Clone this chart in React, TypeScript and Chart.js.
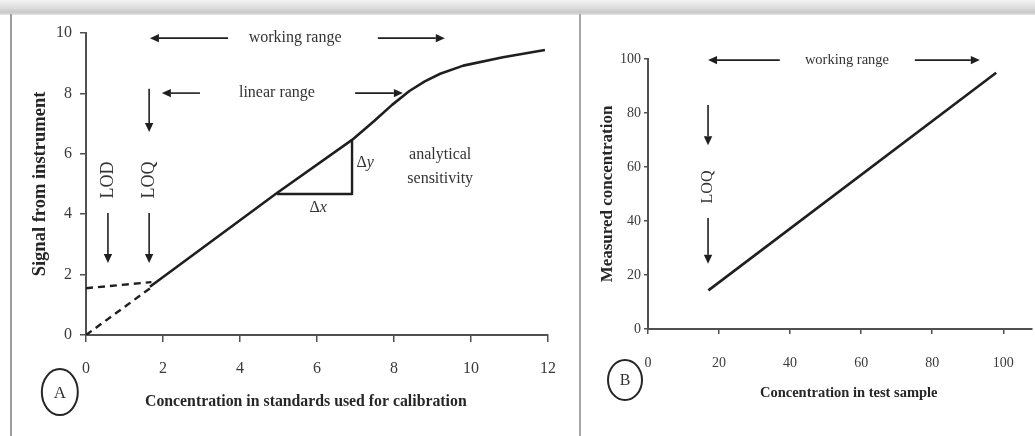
import React, { useEffect, useRef } from "react";
import { Chart, registerables } from "chart.js";

Chart.register(...registerables);

const SERIF = "'Liberation Serif', 'DejaVu Serif', serif";
const INK = "#1f1f1f";
const TXT = "#333333";
const AXIS = "#505050";

// ---------- Panel A : calibration curve ----------
const aXTicks = [0, 2, 4, 6, 8, 10, 12];
const aYTicks = [0, 2, 4, 6, 8, 10];
const aCurveX = [1.66, 4.96, 6.91, 7.5, 7.95, 8.4, 8.8, 9.2, 9.8, 10.83, 11.92];
const aCurveY = [1.6, 4.7, 6.46, 7.1, 7.62, 8.08, 8.4, 8.65, 8.92, 9.2, 9.44];
const aBlankX = [0, 1.7];
const aBlankY = [1.55, 1.75];
const aOriginX = [0, 1.7];
const aOriginY = [0, 1.58];
const aTriX = [4.96, 6.91, 6.91];
const aTriY = [4.67, 4.67, 6.42];

// ---------- Panel B : measured vs test sample ----------
const bXTicks = [0, 20, 40, 60, 80, 100];
const bYTicks = [0, 20, 40, 60, 80, 100];
const bLineX = [17, 98];
const bLineY = [14.3, 94.9];

// annotations (data coordinates of each panel)
const aAnnotations = [
  { kind: "arrow", x1: 3.69, y1: 9.83, x2: 1.66, y2: 9.83 },
  { kind: "text", x: 5.43, y: 9.83, text: "working range", size: 16 },
  { kind: "arrow", x1: 7.58, y1: 9.83, x2: 9.32, y2: 9.83 },
  { kind: "arrow", x1: 2.96, y1: 8.01, x2: 1.97, y2: 8.01 },
  { kind: "text", x: 4.96, y: 8.01, text: "linear range", size: 16 },
  { kind: "arrow", x1: 6.99, y1: 8.01, x2: 8.23, y2: 8.01 },
  { kind: "arrow", x1: 1.64, y1: 8.15, x2: 1.64, y2: 6.72 },
  { kind: "text", x: 1.64, y: 5.13, text: "LOQ", size: 18, rot: true },
  { kind: "arrow", x1: 1.64, y1: 4.04, x2: 1.64, y2: 2.38 },
  { kind: "text", x: 0.57, y: 5.13, text: "LOD", size: 18, rot: true },
  { kind: "arrow", x1: 0.57, y1: 4.04, x2: 0.57, y2: 2.38 },
  { kind: "delta", x: 6.03, y: 4.2, text: "x", size: 16 },
  { kind: "delta", x: 7.25, y: 5.7, text: "y", size: 16 },
  { kind: "text", x: 9.2, y: 5.96, text: "analytical", size: 16 },
  { kind: "text", x: 9.2, y: 5.16, text: "sensitivity", size: 16 },
  { kind: "badge", x: -0.68, y: -1.89, text: "A", rx: 18, ry: 23, size: 17 },
  { kind: "title", x: 5.71, y: -2.22, text: "Concentration in standards used for calibration", size: 15.8 },
];

const bAnnotations = [
  { kind: "arrow", x1: 37.1, y1: 99.6, x2: 16.9, y2: 99.6 },
  { kind: "text", x: 56, y: 99.6, text: "working range", size: 14.5 },
  { kind: "arrow", x1: 75.1, y1: 99.6, x2: 93.4, y2: 99.6 },
  { kind: "arrow", x1: 16.9, y1: 83, x2: 16.9, y2: 68.1 },
  { kind: "text", x: 16.9, y: 52.6, text: "LOQ", size: 16, rot: true },
  { kind: "arrow", x1: 16.9, y1: 41.1, x2: 16.9, y2: 24.2 },
  { kind: "badge", x: -6.47, y: -18.9, text: "B", rx: 17, ry: 20, size: 16 },
  { kind: "title", x: 56.5, y: -23.7, text: "Concentration in test sample", size: 14.5 },
];

const pts = (xs: number[], ys: number[]) => xs.map((x, i) => ({ x, y: ys[i] }));

function makeAnnotPlugin(items: any[]) {
  return {
    id: "annot",
    afterDraw(chart: any) {
      const ctx = chart.ctx as CanvasRenderingContext2D;
      const sx = chart.scales.x;
      const sy = chart.scales.y;
      const px = (v: number) => sx.getPixelForValue(v);
      const py = (v: number) => sy.getPixelForValue(v);
      ctx.save();
      for (const it of items) {
        if (it.kind === "arrow") {
          const x1 = px(it.x1), y1 = py(it.y1), x2 = px(it.x2), y2 = py(it.y2);
          const ang = Math.atan2(y2 - y1, x2 - x1);
          const len = 9, hw = 4.2;
          const bx = x2 - len * Math.cos(ang), by = y2 - len * Math.sin(ang);
          ctx.strokeStyle = INK;
          ctx.lineWidth = 1.6;
          ctx.beginPath();
          ctx.moveTo(x1, y1);
          ctx.lineTo(bx, by);
          ctx.stroke();
          ctx.fillStyle = INK;
          ctx.beginPath();
          ctx.moveTo(x2, y2);
          ctx.lineTo(bx + hw * Math.sin(ang), by - hw * Math.cos(ang));
          ctx.lineTo(bx - hw * Math.sin(ang), by + hw * Math.cos(ang));
          ctx.closePath();
          ctx.fill();
        } else if (it.kind === "text") {
          ctx.fillStyle = TXT;
          ctx.font = `${it.size}px ${SERIF}`;
          ctx.textAlign = "center";
          ctx.textBaseline = "middle";
          const x = px(it.x), y = py(it.y);
          if (it.rot) {
            ctx.save();
            ctx.translate(x, y);
            ctx.rotate(-Math.PI / 2);
            ctx.fillText(it.text, 0, 0);
            ctx.restore();
          } else {
            ctx.fillText(it.text, x, y);
          }
        } else if (it.kind === "delta") {
          const x = px(it.x), y = py(it.y);
          ctx.fillStyle = TXT;
          ctx.textBaseline = "middle";
          ctx.font = `${it.size}px ${SERIF}`;
          const dW = ctx.measureText("\u0394").width;
          ctx.font = `italic ${it.size}px ${SERIF}`;
          const vW = ctx.measureText(it.text).width;
          const start = x - (dW + vW) / 2;
          ctx.textAlign = "left";
          ctx.font = `${it.size}px ${SERIF}`;
          ctx.fillText("\u0394", start, y);
          ctx.font = `italic ${it.size}px ${SERIF}`;
          ctx.fillText(it.text, start + dW, y);
        } else if (it.kind === "badge") {
          const x = px(it.x), y = py(it.y);
          ctx.strokeStyle = "#262626";
          ctx.lineWidth = 2;
          ctx.beginPath();
          ctx.ellipse(x, y, it.rx, it.ry, 0, 0, Math.PI * 2);
          ctx.stroke();
          ctx.fillStyle = TXT;
          ctx.font = `${it.size}px ${SERIF}`;
          ctx.textAlign = "center";
          ctx.textBaseline = "middle";
          ctx.fillText(it.text, x, y + 1);
        } else if (it.kind === "title") {
          ctx.fillStyle = "#262626";
          ctx.font = `bold ${it.size}px ${SERIF}`;
          ctx.textAlign = "center";
          ctx.textBaseline = "middle";
          ctx.fillText(it.text, px(it.x), py(it.y));
        }
      }
      ctx.restore();
    },
  };
}

function axis(opts: any) {
  return {
    type: "linear",
    position: opts.position,
    min: opts.min,
    max: opts.max,
    afterBuildTicks: (s: any) => {
      s.ticks = opts.ticks.map((v: number) => ({ value: v }));
    },
    afterFit: (s: any) => {
      if (opts.position === "bottom") s.height = opts.size;
      else s.width = opts.size;
    },
    grid: {
      display: true,
      drawOnChartArea: false,
      drawTicks: true,
      tickLength: opts.tickLength,
      color: AXIS,
      lineWidth: 1.5,
    },
    border: { display: true, color: AXIS, width: 2 },
    ticks: {
      color: "#3a3a3a",
      font: { family: SERIF, size: opts.fontSize },
      padding: opts.padding,
      maxRotation: 0,
      autoSkip: false,
    },
    title: opts.title
      ? {
          display: true,
          text: opts.title,
          color: "#262626",
          font: { family: SERIF, size: opts.titleSize, weight: "bold" },
          padding: { top: opts.titlePad, bottom: 0 },
        }
      : { display: false },
  };
}

const line = (data: any[], width: number, dash: number[] = []) => ({
  data,
  showLine: true,
  borderColor: INK,
  backgroundColor: INK,
  borderWidth: width,
  borderDash: dash,
  borderJoinStyle: "round",
  pointRadius: 0,
  fill: false,
  tension: 0,
});

export default function App() {
  const refA = useRef<HTMLCanvasElement>(null);
  const refB = useRef<HTMLCanvasElement>(null);

  useEffect(() => {
    const common = {
      animation: false,
      responsive: false,
      devicePixelRatio: 1,
      events: [],
      plugins: { legend: { display: false }, tooltip: { enabled: false }, title: { display: false } },
    };

    const chartA = new Chart(refA.current!, {
      type: "scatter",
      data: {
        datasets: [
          line(pts(aCurveX, aCurveY), 2.6),
          line(pts(aBlankX, aBlankY), 2.4, [7, 5]),
          line(pts(aOriginX, aOriginY), 2.4, [7, 5]),
          line(pts(aTriX, aTriY), 2.4),
        ],
      },
      options: {
        ...common,
        layout: { padding: { left: 0, top: 18, right: 32, bottom: 0 } },
        scales: {
          x: axis({ position: "bottom", min: 0, max: 12, ticks: aXTicks, size: 101, tickLength: 7, padding: 17, fontSize: 16 }),
          y: axis({
            position: "left", min: 0, max: 10, ticks: aYTicks, size: 74, tickLength: 6, padding: 8, fontSize: 16,
            title: "Signal from instrument", titleSize: 18.5, titlePad: 17,
          }),
        },
      } as any,
      plugins: [makeAnnotPlugin(aAnnotations)],
    } as any);

    const chartB = new Chart(refB.current!, {
      type: "scatter",
      data: {
        datasets: [line(pts(bLineX, bLineY), 2.6)],
      },
      options: {
        ...common,
        layout: { padding: { left: 0, top: 44, right: 3, bottom: 0 } },
        scales: {
          x: axis({ position: "bottom", min: 0, max: 108, ticks: bXTicks, size: 107, tickLength: 5, padding: 21, fontSize: 14 }),
          y: axis({
            position: "left", min: 0, max: 100, ticks: bYTicks, size: 66, tickLength: 4, padding: 3, fontSize: 14,
            title: "Measured concentration", titleSize: 17, titlePad: 15,
          }),
        },
      } as any,
      plugins: [makeAnnotPlugin(bAnnotations)],
    } as any);

    return () => {
      chartA.destroy();
      chartB.destroy();
    };
  }, []);

  return (
    <div
      style={{
        position: "absolute",
        left: 0,
        top: 0,
        width: 1035,
        height: 436,
        background: "#ffffff",
        overflow: "hidden",
      }}
    >
      <div
        style={{
          position: "absolute",
          left: 0,
          top: 0,
          width: 1035,
          height: 15,
          background: "linear-gradient(to bottom, #f4f4f4 0px, #dcdcdc 8px, #c9c9c9 12px, #d6d6d6 14px, #ececec 15px)",
        }}
      />
      <div style={{ position: "absolute", left: 10, top: 14, width: 2, height: 422, background: "#9c9c9c" }} />
      <div style={{ position: "absolute", left: 579, top: 14, width: 2, height: 422, background: "#a8a8a8" }} />
      <canvas
        ref={refA}
        width={568}
        height={421}
        style={{ position: "absolute", left: 12, top: 15, width: 568, height: 421 }}
      />
      <canvas
        ref={refB}
        width={453}
        height={421}
        style={{ position: "absolute", left: 582, top: 15, width: 453, height: 421 }}
      />
    </div>
  );
}
